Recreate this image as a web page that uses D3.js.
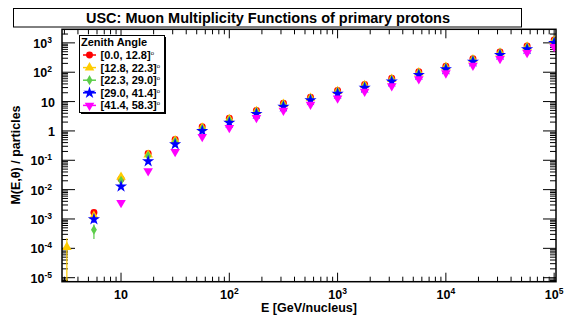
<!DOCTYPE html>
<html lang="en">
<head>
<meta charset="UTF-8"/>
<title>USC: Muon Multiplicity Functions of primary protons</title>
<style>
  *{margin:0;padding:0}
  body{background:#fff;width:564px;height:316px;overflow:hidden}
  svg{display:block;font-family:"Liberation Sans",Arial,sans-serif;font-weight:bold}
</style>
</head>
<body>
<svg id="chart" width="564" height="316"></svg>
<script src="https://d3js.org/d3.v7.min.js"></script>
<script>
// energy bins, GeV/nucleus
const energies = [3.16, 5.62, 10, 17.8, 31.6, 56.2, 100, 178, 316, 562, 1000, 1778, 3162, 5623, 10000, 17783, 31623, 56234, 100000];

// zenith angle bins (legend)
const zenithLabels = ['[0.0, 12.8]', '[12.8, 22.3]', '[22.3, 29.0]', '[29.0, 41.4]', '[41.4, 58.3]'];

// muon multiplicity per bin, null = no point
const mult0 = [null, 1.65e-3, 0.023, 0.17, 0.51, 1.39, 2.7, 5.0, 8.7, 14, 24, 38, 62, 104, 160, 290, 490, 780, 1250];
const mult1 = [1.1e-4, 1.25e-3, 0.027, 0.155, 0.47, 1.28, 2.5, 4.7, 8.2, 13.2, 22.5, 36, 58, 97, 150, 272, 460, 730, 1170];
const mult2 = [null, 4.3e-4, 0.020, 0.14, 0.43, 1.18, 2.3, 4.4, 7.6, 12.3, 21, 33, 54, 90, 140, 255, 430, 680, 1100];
const mult3 = [null, 9.8e-4, 0.0128, 0.093, 0.35, 1.0, 1.9, 3.8, 6.7, 11.2, 18.5, 29.5, 48, 81, 126, 230, 390, 610, 1000];
const mult4 = [null, null, 3.6e-3, 0.043, 0.195, 0.63, 1.29, 2.8, 5.0, 8.0, 13, 22, 34, 59, 93, 170, 290, 460, 740];

// errors (only visible at low energy)
const err0 = [null, 3.5e-4, 2e-3];
const err1 = [1.1e-4, 3e-4, 3e-3];
const err2 = [null, 2.2e-4, 2e-3];
const err3 = [null, 2.5e-4, 1.5e-3];
const err4 = [null, null, 6e-4];

const xTicks = [10, 1e2, 1e3, 1e4, 1e5];
const yTicks = [1e-5, 1e-4, 1e-3, 1e-2, 1e-1, 1, 10, 1e2, 1e3];

const series = [
  { vals: mult0, errs: err0, color: '#ff0000', sym: d3.symbolCircle,   size: 38, rot: 0 },
  { vals: mult1, errs: err1, color: '#ffcc00', sym: d3.symbolTriangle, size: 40, rot: 0 },
  { vals: mult2, errs: err2, color: '#5ccd4a', sym: d3.symbolDiamond,  size: 30, rot: 0 },
  { vals: mult3, errs: err3, color: '#0000ff', sym: d3.symbolStar,     size: 46, rot: 0 },
  { vals: mult4, errs: err4, color: '#ff00ff', sym: d3.symbolTriangle, size: 40, rot: 180 }
];

const L = 62, T = 29.3, R = 556, B = 281.7;
const x = d3.scaleLog().domain([2.85, 1.04e5]).range([L, R]);
const y = d3.scaleLog().domain([7.3e-6, 2900]).range([B, T]);

const svg = d3.select('#chart');

// title box
svg.append('rect').attr('x', 13.5).attr('y', 8.5).attr('width', 508).attr('height', 18.5)
  .attr('fill', '#fff').attr('stroke', '#000').attr('stroke-width', 1);
svg.append('text').attr('x', 268).attr('y', 23).attr('text-anchor', 'middle')
  .attr('font-size', 14.5).text('USC: Muon Multiplicity Functions of primary protons');

// minor ticks for log axes
function minors(scale) {
  const [a, b] = scale.domain(), out = [];
  for (let d = Math.pow(10, Math.floor(Math.log10(a))); d < b; d *= 10)
    for (let m = 2; m <= 9; m++) { const v = m * d; if (v > a && v < b) out.push(v); }
  return out;
}

const g = svg.append('g').attr('stroke', '#000').attr('stroke-width', 1);
// x ticks: bottom and top
[[xTicks, 9], [minors(x), 5]].forEach(([vals, len]) => {
  g.selectAll(null).data(vals).join('line')
    .attr('x1', d => x(d)).attr('x2', d => x(d)).attr('y1', B).attr('y2', B - len);
  g.selectAll(null).data(vals).join('line')
    .attr('x1', d => x(d)).attr('x2', d => x(d)).attr('y1', T).attr('y2', T + len);
});
// y ticks: left and right
[[yTicks, 13], [minors(y), 6]].forEach(([vals, len]) => {
  g.selectAll(null).data(vals).join('line')
    .attr('y1', d => y(d)).attr('y2', d => y(d)).attr('x1', L).attr('x2', L + len);
  g.selectAll(null).data(vals).join('line')
    .attr('y1', d => y(d)).attr('y2', d => y(d)).attr('x1', R).attr('x2', R - len);
});

// power-of-ten labels
function powLabel(sel, v) {
  const e = Math.round(Math.log10(v));
  if (e === 0) { sel.text('1'); return; }
  sel.append('tspan').text('10');
  if (e !== 1) sel.append('tspan').attr('font-size', 8.5).attr('dy', -5).text(e);
}

svg.selectAll('.xl').data(xTicks).join('text').attr('class', 'xl')
  .attr('x', d => x(d)).attr('y', 299).attr('text-anchor', 'middle').attr('font-size', 12.5)
  .each(function(d) { powLabel(d3.select(this), d); });

svg.selectAll('.yl').data(yTicks).join('text').attr('class', 'yl')
  .attr('x', d => Math.round(Math.log10(d)) > 1 || Math.round(Math.log10(d)) < 0 ? 52 : 55)
  .attr('y', d => y(d) + 5).attr('text-anchor', 'end').attr('font-size', 12.5)
  .each(function(d) { powLabel(d3.select(this), d); });

// axis titles
svg.append('text').attr('x', 309).attr('y', 311.5).attr('text-anchor', 'middle')
  .attr('font-size', 12.5).text('E [GeV/nucleus]');
svg.append('text').attr('transform', 'translate(20,155) rotate(-90)').attr('text-anchor', 'middle')
  .attr('font-size', 12.5).text('M(E,\u03b8) / particles');

// data
svg.append('clipPath').attr('id', 'clip').append('rect')
  .attr('x', L).attr('y', T).attr('width', R - L).attr('height', B - T);
const plot = svg.append('g').attr('clip-path', 'url(#clip)');

series.forEach(s => {
  const pts = energies.map((e, i) => ({ e, v: s.vals[i], err: s.errs[i] })).filter(p => p.v != null);
  plot.selectAll(null).data(pts.filter(p => p.err)).join('line')
    .attr('x1', p => x(p.e)).attr('x2', p => x(p.e))
    .attr('y1', p => y(Math.max(p.v - p.err, 1e-7))).attr('y2', p => y(p.v + p.err))
    .attr('stroke', s.color).attr('stroke-width', 1.2);
  plot.selectAll(null).data(pts).join('path')
    .attr('d', d3.symbol().type(s.sym).size(s.size))
    .attr('transform', p => `translate(${x(p.e)},${y(p.v)}) rotate(${s.rot})`)
    .attr('fill', s.color);
});

// frame
svg.append('rect').attr('x', L).attr('y', T).attr('width', R - L).attr('height', B - T)
  .attr('fill', 'none').attr('stroke', '#000').attr('stroke-width', 1.5);

// legend
const lg = svg.append('g');
lg.append('rect').attr('x', 81).attr('y', 37).attr('width', 85).attr('height', 77).attr('fill', '#000');
lg.append('rect').attr('x', 79.5).attr('y', 35.5).attr('width', 85).attr('height', 77)
  .attr('fill', '#fff').attr('stroke', '#000').attr('stroke-width', 1);
lg.append('text').attr('x', 81).attr('y', 46).attr('font-size', 11).text('Zenith Angle');
series.forEach((s, i) => {
  const cy = 55 + i * 12.6;
  lg.append('line').attr('x1', 83).attr('x2', 96).attr('y1', cy).attr('y2', cy)
    .attr('stroke', s.color).attr('stroke-width', 1.5);
  lg.append('path').attr('d', d3.symbol().type(s.sym).size(s.size))
    .attr('transform', `translate(89.5,${cy}) rotate(${s.rot})`).attr('fill', s.color);
  const t = lg.append('text').attr('x', 100.5).attr('y', cy + 4).attr('font-size', 11);
  t.append('tspan').text(zenithLabels[i]);
  t.append('tspan').attr('font-size', 6).attr('font-weight', 'normal').attr('dy', -4).text('o');
});
</script>
</body>
</html>
